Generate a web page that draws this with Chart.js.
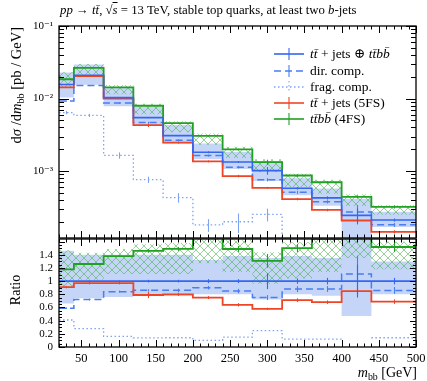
<!DOCTYPE html>
<html><head><meta charset="utf-8">
<script src="https://cdn.jsdelivr.net/npm/chart.js@4.4.1/dist/chart.umd.min.js"></script>
<style>
html,body{margin:0;padding:0;background:#fff;}
#wrap{position:relative;width:427px;height:381px;overflow:hidden;font-family:"Liberation Serif","DejaVu Serif",serif;color:#000;}
#wrap canvas{position:absolute;left:0;}
#cMain{top:0;}
#cRatio{top:238px;}
.t{position:absolute;white-space:nowrap;line-height:16px;}
.rot{transform-origin:0 0;transform:rotate(-90deg);}
.leg{position:absolute;left:274px;height:16px;line-height:16px;font-size:13.5px;white-space:nowrap;}
.leg svg{position:absolute;left:0;top:2px;}
.leg span{position:absolute;left:36px;top:0;}
sub{font-size:70%;vertical-align:-3px;line-height:0;}
</style></head><body>
<div id="wrap">
<canvas id="cMain" width="427" height="240"></canvas>
<canvas id="cRatio" width="427" height="143"></canvas>
<div class="t" style="left:60px;top:2px;font-size:12.8px;"><i>pp</i> → <i>tt̄</i>, √<span style="text-decoration:overline"><i>s</i></span> = 13 TeV, stable top quarks, at least two <i>b</i>-jets</div>
<div class="t rot" style="left:8px;top:227px;width:200px;text-align:right;font-size:14.5px;">d<i>σ</i> /d<i>m</i><sub>bb</sub> [pb / GeV]</div>
<div class="t rot" style="left:8px;top:340px;width:100px;text-align:center;font-size:14px;">Ratio</div>
<div class="t" style="left:217px;top:365px;width:200px;text-align:right;font-size:14px;"><i>m</i><sub>bb</sub> [GeV]</div>
<div id="legend"></div>
</div>
<script>
// ---------------- data ----------------
const binEdges = [20, 40, 80, 120, 160, 200, 240, 280, 320, 360, 400, 440, 500];
const xTickValues = [50, 100, 150, 200, 250, 300, 350, 400, 450, 500];
const mainTickValues = [1e-3, 1e-2, 1e-1];
const ratioTickValues = [0, 0.2, 0.4, 0.6, 0.8, 1, 1.2, 1.4];

// dσ/dm_bb [pb/GeV]
const totalCombined = [0.01565, 0.0210, 0.01032, 0.00546, 0.00309, 0.00182, 0.001337, 0.001016, 0.000581, 0.000429, 0.000246, 0.000212];
const directComp    = [0.00923, 0.01512, 0.00867, 0.00470, 0.002657, 0.001638, 0.001136, 0.000762, 0.000511, 0.000378, 0.000273, 0.000182];
const fragComp      = [0.00642, 0.00588, 0.00165, 0.000764, 0.000433, 0.000182, 0.000201, 0.000254, 0.0000697, 0.0000515, null, 0.0000297];
const ttjets5FS     = [0.01424, 0.02037, 0.01001, 0.004313, 0.002472, 0.001365, 0.000856, 0.000589, 0.000413, 0.000292, 0.000209, 0.000146];
const ttbb4FS       = [0.01847, 0.02646, 0.01424, 0.00797, 0.00460, 0.00306, 0.00199, 0.00133, 0.000872, 0.000704, 0.000443, 0.000322];

// uncertainty bands, relative to the combined prediction
const totalBandUp   = [1.46, 1.40, 1.40, 1.40, 1.40, 1.32, 1.38, 1.35, 1.38, 1.35, 1.70, 1.30];
const totalBandDown = [0.66, 0.74, 0.76, 0.78, 0.78, 0.80, 0.80, 0.72, 0.80, 0.78, 0.47, 0.80];
const ttbbBandUp    = [1.47, 1.43, 1.49, 1.56, 1.58, 1.82, 1.62, 1.44, 1.59, 1.77, 1.95, 1.60];
const ttbbBandDown  = [0.92, 1.02, 1.11, 1.11, 1.11, 1.27, 1.14, 0.96, 1.04, 1.14, 1.35, 1.18];

// statistical errors (relative)
const errTotal = [0.01, 0.01, 0.01, 0.02, 0.02, 0.03, 0.03, 0.12, 0.04, 0.05, 0.25, 0.05];
const errDir   = [0.02, 0.02, 0.02, 0.02, 0.03, 0.03, 0.04, 0.05, 0.05, 0.05, 0.25, 0.06];
const errFrag  = [0.05, 0.05, 0.10, 0.10, 0.15, 0.20, 0.30, 0.20, 0.30, 0.30, null, 0.30];
const err5FS   = [0.02, 0.02, 0.02, 0.06, 0.03, 0.03, 0.04, 0.03, 0.04, 0.04, 0.05, 0.05];
const err4FS   = [0.01, 0.01, 0.01, 0.02, 0.02, 0.02, 0.03, 0.08, 0.04, 0.04, 0.05, 0.05];

// ---------------- style ----------------
const C_TOT = '#3466f0', C_DIR = '#4a7cf2', C_FRAG = '#7ea3f5', C_RED = '#ee4526', C_GRN = '#21a121';
const BAND_BLUE = 'rgba(190,208,247,0.9)';
const FONT = '"Liberation Serif","DejaVu Serif",serif';

function hatchPattern() {
  const c = document.createElement('canvas'); c.width = 8; c.height = 8;
  const g = c.getContext('2d');
  g.strokeStyle = 'rgba(70,175,70,0.55)'; g.lineWidth = 1;
  g.beginPath(); g.moveTo(0, 0); g.lineTo(8, 8); g.moveTo(8, 0); g.lineTo(0, 8); g.stroke();
  return g.createPattern(c, 'repeat');
}
const HATCH = hatchPattern();

// ---------------- helpers ----------------
function hist(vals) {
  const pts = [];
  vals.forEach((v, i) => {
    pts.push({x: binEdges[i], y: v}, {x: binEdges[i + 1], y: v});
  });
  return pts;
}
const mul = (a, b) => a.map((v, i) => (v == null || b[i] == null) ? null : v * b[i]);
const ratioOf = (a) => a.map((v, i) => v == null ? null : v / totalCombined[i]);
const ones = totalCombined.map(() => 1);

function lineDs(data, color, extra) {
  return Object.assign({data, borderColor: color, backgroundColor: color, borderWidth: 1.6,
    pointRadius: 0, fill: false, tension: 0, spanGaps: false}, extra || {});
}
function bandDs(lo, hi, color, loIndex, order) {
  return [
    {data: hist(lo), borderWidth: 0, pointRadius: 0, fill: false, order, borderColor: 'rgba(0,0,0,0)'},
    {data: hist(hi), borderWidth: 0, pointRadius: 0, fill: {target: loIndex}, backgroundColor: color, order, borderColor: 'rgba(0,0,0,0)'}
  ];
}

const superscripts = {'-1': '⁻¹', '-2': '⁻²', '-3': '⁻³', '-4': '⁻⁴'};

// frame, inward ticks, error bars
const framePlugin = {
  id: 'frameTicks',
  afterDraw(chart, args, opts) {
    const {ctx, chartArea: a, scales} = chart;
    ctx.save();
    ctx.beginPath(); ctx.rect(a.left, a.top, a.right - a.left, a.bottom - a.top); ctx.clip();
    (opts.errors || []).forEach(e => {
      ctx.strokeStyle = e.color; ctx.lineWidth = 1.1;
      e.vals.forEach((v, i) => {
        if (v == null || e.rel[i] == null) return;
        const xc = Math.round(scales.x.getPixelForValue((binEdges[i] + binEdges[i + 1]) / 2)) + 0.5;
        const y1 = scales.y.getPixelForValue(v * (1 - e.rel[i]));
        const y2 = scales.y.getPixelForValue(v * (1 + e.rel[i]));
        ctx.beginPath(); ctx.moveTo(xc, y1); ctx.lineTo(xc, y2); ctx.stroke();
      });
    });
    ctx.restore();
    ctx.save();
    ctx.strokeStyle = '#000'; ctx.lineWidth = 1;
    const seg = (x1, y1, x2, y2) => { ctx.beginPath(); ctx.moveTo(x1, y1); ctx.lineTo(x2, y2); ctx.stroke(); };
    for (let g = 20; g <= 500; g += 10) {
      const px = Math.round(scales.x.getPixelForValue(g)) + 0.5;
      const L = g % 50 === 0 ? 7 : 3.5;
      seg(px, a.bottom, px, a.bottom - L);
      seg(px, a.top, px, a.top + L);
    }
    opts.yTicks().forEach(t => {
      const py = Math.round(scales.y.getPixelForValue(t.v)) + 0.5;
      if (py < a.top - 0.1 || py > a.bottom + 0.6) return;
      const L = t.major ? opts.yMaj : opts.yMin;
      seg(a.left, py, a.left + L, py);
      seg(a.right, py, a.right - L, py);
    });
    ctx.lineWidth = 1.3;
    ctx.strokeRect(a.left, a.top, a.right - a.left, a.bottom - a.top);
    ctx.restore();
  }
};

function fixY(width) {
  return s => { s.width = width; s.paddingTop = 0; s.paddingBottom = 0; };
}
const noGrid = {display: false, drawTicks: false};

// ---------------- main panel ----------------
const mainDatasets = [];
mainDatasets.push(...bandDs(mul(totalCombined, totalBandDown), mul(totalCombined, totalBandUp), BAND_BLUE, 0, 10));
mainDatasets.push(...bandDs(mul(totalCombined, ttbbBandDown), mul(totalCombined, ttbbBandUp), HATCH, 2, 9));
mainDatasets.push(lineDs(hist(fragComp), C_FRAG, {borderDash: [1.5, 2.5], borderWidth: 1.3, order: 6}));
mainDatasets.push(lineDs(hist(directComp), C_DIR, {borderDash: [7, 4], borderWidth: 1.5, order: 5}));
mainDatasets.push(lineDs(hist(ttjets5FS), C_RED, {order: 4, borderWidth: 1.8}));
mainDatasets.push(lineDs(hist(ttbb4FS), C_GRN, {order: 3, borderWidth: 1.8}));
mainDatasets.push(lineDs(hist(totalCombined), C_TOT, {order: 2, borderWidth: 1.6}));

const commonX = {type: 'linear', min: 20, max: 500,
  afterBuildTicks: s => { s.ticks = xTickValues.map(v => ({value: v})); }};

new Chart(document.getElementById('cMain'), {
  type: 'line',
  data: {datasets: mainDatasets},
  options: {
    responsive: false, animation: false, events: [],
    layout: {padding: {left: 7, right: 11, top: 26, bottom: 2}},
    plugins: {legend: {display: false}, tooltip: {enabled: false},
      frameTicks: {
        yMaj: 10, yMin: 5,
        yTicks: () => { const out = []; for (let e = -4; e <= -1; e++) for (let k = 1; k <= 9; k++) out.push({v: k * Math.pow(10, e), major: k === 1}); return out; },
        errors: [
          {vals: fragComp, rel: errFrag, color: C_FRAG},
          {vals: directComp, rel: errDir, color: C_DIR},
          {vals: ttjets5FS, rel: err5FS, color: C_RED},
          {vals: ttbb4FS, rel: err4FS, color: C_GRN},
          {vals: totalCombined, rel: errTotal, color: C_TOT}
        ]}},
    scales: {
      x: Object.assign({}, commonX, {display: false}),
      y: {type: 'logarithmic', min: 1.2e-4, max: 0.1,
        afterFit: fixY(52),
        afterBuildTicks: s => { s.ticks = mainTickValues.map(v => ({value: v})); },
        grid: noGrid, border: {display: false},
        ticks: {padding: 6, color: '#000', autoSkip: false, font: {family: FONT, size: 11},
          callback: v => '10' + superscripts[String(Math.round(Math.log10(v)))]}}
    }
  },
  plugins: [framePlugin]
});

// ---------------- ratio panel ----------------
const ratioDatasets = [];
ratioDatasets.push(...bandDs(totalBandDown, totalBandUp, BAND_BLUE, 0, 10));
ratioDatasets.push(...bandDs(ttbbBandDown, ttbbBandUp, HATCH, 2, 9));
ratioDatasets.push(lineDs(hist(ratioOf(fragComp)), C_FRAG, {borderDash: [1.5, 2.5], borderWidth: 1.3, order: 6}));
ratioDatasets.push(lineDs(hist(ratioOf(directComp)), C_DIR, {borderDash: [7, 4], borderWidth: 1.5, order: 5}));
ratioDatasets.push(lineDs(hist(ratioOf(ttjets5FS)), C_RED, {order: 4, borderWidth: 1.8}));
ratioDatasets.push(lineDs(hist(ratioOf(ttbb4FS)), C_GRN, {order: 3, borderWidth: 1.8}));
ratioDatasets.push(lineDs(hist(ones), C_TOT, {order: 2, borderWidth: 1.6}));

new Chart(document.getElementById('cRatio'), {
  type: 'line',
  data: {datasets: ratioDatasets},
  options: {
    responsive: false, animation: false, events: [],
    layout: {padding: {left: 7, right: 11, top: 1, bottom: 0}},
    plugins: {legend: {display: false}, tooltip: {enabled: false},
      frameTicks: {
        yMaj: 6, yMin: 3,
        yTicks: () => { const out = []; for (let i = 0; i <= 33; i++) out.push({v: i * 0.05, major: i % 4 === 0}); return out; },
        errors: [
          {vals: ratioOf(directComp), rel: errDir, color: C_DIR},
          {vals: ratioOf(ttjets5FS), rel: err5FS, color: C_RED},
          {vals: ratioOf(ttbb4FS), rel: err4FS, color: C_GRN},
          {vals: ones, rel: errTotal, color: C_TOT}
        ]}},
    scales: {
      x: Object.assign({}, commonX, {
        afterFit: s => { s.height = 34; s.paddingLeft = 0; s.paddingRight = 0; },
        grid: noGrid, border: {display: false},
        ticks: {padding: 4, color: '#000', autoSkip: false, font: {family: FONT, size: 12.5}, maxRotation: 0}}),
      y: {type: 'linear', min: 0, max: 1.64,
        afterFit: fixY(52),
        afterBuildTicks: s => { s.ticks = ratioTickValues.map(v => ({value: v})); },
        grid: noGrid, border: {display: false},
        ticks: {padding: 6, color: '#000', autoSkip: false, font: {family: FONT, size: 11},
          callback: v => String(Math.round(v * 10) / 10)}}
    }
  },
  plugins: [framePlugin]
});

// ---------------- legend (HTML) ----------------
const legendEntries = [
  {label: '<i>tt̄</i> + jets ⊕ <i>tt̄bb̄</i>', color: C_TOT, dash: ''},
  {label: 'dir. comp.', color: C_DIR, dash: '7,4'},
  {label: 'frag. comp.', color: C_FRAG, dash: '1.5,2.5'},
  {label: '<i>tt̄</i> + jets (5FS)', color: C_RED, dash: ''},
  {label: '<i>tt̄bb̄</i> (4FS)', color: C_GRN, dash: ''}
];
const legendTops = [46, 62.5, 78.5, 95, 111];
const legendEl = document.getElementById('legend');
legendEntries.forEach((e, i) => {
  const d = document.createElement('div');
  d.className = 'leg';
  d.style.top = legendTops[i] + 'px';
  d.innerHTML = '<svg width="30" height="12"><line x1="0" y1="6" x2="30" y2="6" stroke="' + e.color +
    '" stroke-width="1.6" stroke-dasharray="' + e.dash + '"/><line x1="15" y1="0" x2="15" y2="12" stroke="' + e.color +
    '" stroke-width="1.1" stroke-dasharray="' + (e.dash === '1.5,2.5' ? '1.5,2.5' : '') + '"/></svg><span>' + e.label + '</span>';
  legendEl.appendChild(d);
});
</script>
</body></html>
